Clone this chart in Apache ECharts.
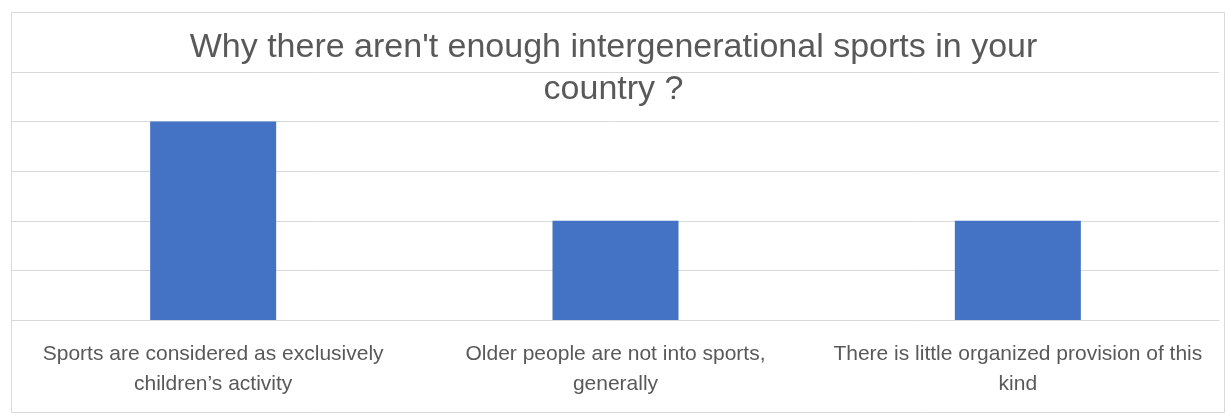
<!DOCTYPE html>
<html><head><meta charset="utf-8">
<script src="https://cdn.jsdelivr.net/npm/echarts@6/dist/echarts.min.js"></script>
<style>html,body{margin:0;padding:0;background:#fff}#c{width:1227px;height:417px}</style>
</head><body><div id="c"></div>
<script>
const titleText = "Why there aren't enough intergenerational sports in your\ncountry ?";
const categories = [
  "Sports are considered as exclusively\nchildren’s activity",
  "Older people are not into sports,\ngenerally",
  "There is little organized provision of this\nkind"
];
const values = [4, 2, 2];
const yMax = 5;

const chart = echarts.init(document.getElementById('c'), null, {renderer: 'canvas'});
chart.setOption({
  backgroundColor: '#ffffff',
  animation: false,
  title: {
    text: titleText,
    left: 'center',
    top: 22,
    textStyle: {fontFamily: 'Liberation Sans', fontSize: 34, fontWeight: 'normal', color: '#595959', lineHeight: 42}
  },
  graphic: [{
    type: 'rect', shape: {x: 11.5, y: 12.5, width: 1213, height: 400},
    style: {fill: 'none', stroke: '#d9d9d9', lineWidth: 1}, z: -1
  }],
  grid: {left: 12, right: 8, top: 72, bottom: 97},
  xAxis: {
    type: 'category', data: categories,
    axisLine: {lineStyle: {color: '#d9d9d9', width: 1}},
    axisTick: {show: false},
    axisLabel: {
      color: '#595959', fontFamily: 'Liberation Sans', fontSize: 21, lineHeight: 30,
      interval: 0, margin: 19
    }
  },
  yAxis: {
    type: 'value', min: 0, max: yMax, interval: 1,
    axisLabel: {show: false}, axisLine: {show: false}, axisTick: {show: false},
    splitLine: {lineStyle: {color: '#d9d9d9', width: 1}}
  },
  series: [{
    type: 'bar', data: values, barWidth: 126,
    itemStyle: {color: '#4472C4'}
  }]
});
</script></body></html>
